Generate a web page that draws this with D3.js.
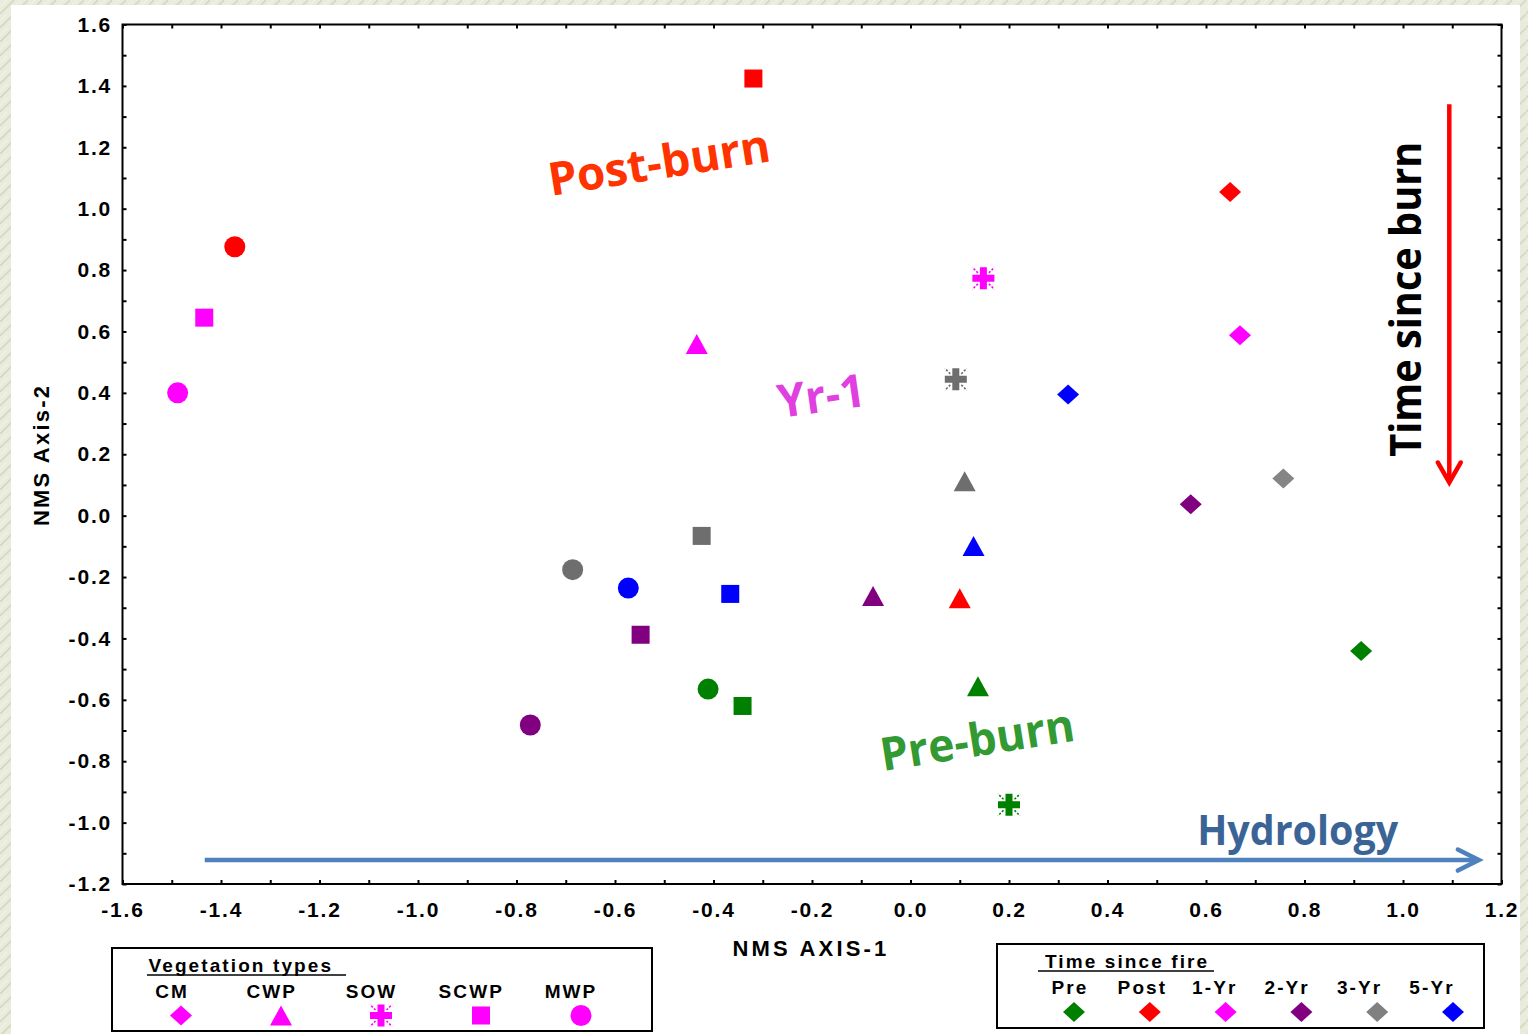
<!DOCTYPE html>
<html>
<head>
<meta charset="utf-8">
<script src="https://cdn.jsdelivr.net/npm/d3@7"></script>
<style>
  html, body { margin: 0; padding: 0; background: #e8ebda; }
  svg { display: block; }
</style>
</head>
<body>
<svg id="chart" width="1528" height="1034"></svg>
<script>
// ---- data -------------------------------------------------------------
const timeGroups = ["Pre", "Post", "1-Yr", "2-Yr", "3-Yr", "5-Yr"];
const vegTypes = ["CM", "CWP", "SOW", "SCWP", "MWP"];

const xTickValues = [-1.6, -1.4, -1.2, -1.0, -0.8, -0.6, -0.4, -0.2, 0.0, 0.2, 0.4, 0.6, 0.8, 1.0, 1.2];
const xTickLabels = ["-1.6", "-1.4", "-1.2", "-1.0", "-0.8", "-0.6", "-0.4", "-0.2", "0.0", "0.2", "0.4", "0.6", "0.8", "1.0", "1.2"];
const yTickValues = [-1.2, -1.0, -0.8, -0.6, -0.4, -0.2, 0.0, 0.2, 0.4, 0.6, 0.8, 1.0, 1.2, 1.4, 1.6];
const yTickLabels = ["-1.2", "-1.0", "-0.8", "-0.6", "-0.4", "-0.2", "0.0", "0.2", "0.4", "0.6", "0.8", "1.0", "1.2", "1.4", "1.6"];

// NMS ordination scores per vegetation type and sampling time
const cmTime  = ["Pre", "Post", "1-Yr", "2-Yr", "3-Yr", "5-Yr"];
const cmAxis1 = [0.915, 0.649, 0.669, 0.569, 0.757, 0.320];
const cmAxis2 = [-0.441, 1.054, 0.588, 0.037, 0.121, 0.395];

const cwpTime  = ["Pre", "Post", "1-Yr", "2-Yr", "3-Yr", "5-Yr"];
const cwpAxis1 = [0.137, 0.100, -0.434, -0.076, 0.110, 0.128];
const cwpAxis2 = [-0.556, -0.269, 0.559, -0.262, 0.112, -0.099];

const sowTime  = ["Pre", "1-Yr", "3-Yr"];
const sowAxis1 = [0.200, 0.148, 0.092];
const sowAxis2 = [-0.942, 0.773, 0.444];

const scwpTime  = ["Pre", "Post", "1-Yr", "2-Yr", "3-Yr", "5-Yr"];
const scwpAxis1 = [-0.341, -0.319, -1.434, -0.548, -0.424, -0.366];
const scwpAxis2 = [-0.620, 1.424, 0.645, -0.388, -0.066, -0.255];

const mwpTime  = ["Pre", "Post", "1-Yr", "2-Yr", "3-Yr", "5-Yr"];
const mwpAxis1 = [-0.411, -1.372, -1.488, -0.772, -0.686, -0.573];
const mwpAxis2 = [-0.565, 0.876, 0.400, -0.682, -0.176, -0.236];

// ---- styling ----------------------------------------------------------
const timeColor = d3.scaleOrdinal()
  .domain(timeGroups)
  .range(["#008000", "#ff0000", "#ff00ff", "#800080", "#6e6e6e", "#0000ff"]);

const W = 1528, H = 1034;
const svg = d3.select("#chart");
const defs = svg.append("defs");

// textured backdrop behind the white panel
const pat = defs.append("pattern").attr("id", "paper")
  .attr("width", 14).attr("height", 14).attr("patternUnits", "userSpaceOnUse");
pat.append("rect").attr("width", 14).attr("height", 14).attr("fill", "#e9ecdc");
pat.append("path").attr("d", "M-2,16 L16,-2").attr("stroke", "#d3d9c1").attr("stroke-width", 1.6);
pat.append("path").attr("d", "M-2,9 L9,-2").attr("stroke", "#f1f3e8").attr("stroke-width", 1.2);
svg.append("rect").attr("width", W).attr("height", H).attr("fill", "url(#paper)");
svg.append("rect").attr("x", 11).attr("y", 5).attr("width", 1509).attr("height", H - 5).attr("fill", "#ffffff");

// ---- scales -----------------------------------------------------------
const x = d3.scaleLinear().domain([-1.6, 1.2]).range([122.5, 1501.5]);
const y = d3.scaleLinear().domain([-1.2, 1.6]).range([884, 24.5]);

const xMinor = d3.range(-16, 13).map(i => +(i / 10).toFixed(1));
const yMinor = d3.range(-12, 17).map(i => +(i / 10).toFixed(1));
const xLabel = v => { const i = xTickValues.findIndex(t => Math.abs(t - v) < 1e-9); return i < 0 ? "" : xTickLabels[i]; };
const yLabel = v => { const i = yTickValues.findIndex(t => Math.abs(t - v) < 1e-9); return i < 0 ? "" : yTickLabels[i]; };

const axisFont = "'Liberation Sans', Arial, sans-serif";

function styleAxis(g) {
  g.select(".domain").remove();
  g.selectAll(".tick line").attr("stroke", "#000").attr("stroke-width", 2);
  g.selectAll(".tick text")
    .attr("fill", "#000")
    .attr("font-family", axisFont)
    .attr("font-weight", "bold")
    .attr("font-size", 21)
    .style("letter-spacing", "1.8px");
}

svg.append("g").attr("transform", `translate(0,${y.range()[0]})`)
  .call(d3.axisBottom(x).tickValues(xMinor).tickSizeInner(-4).tickSizeOuter(0)
    .tickPadding(18).tickFormat(xLabel))
  .call(styleAxis);

svg.append("g").attr("transform", `translate(0,${y.range()[1]})`)
  .call(d3.axisTop(x).tickValues(xMinor).tickSizeInner(-4).tickSizeOuter(0).tickFormat(""))
  .call(styleAxis);

svg.append("g").attr("transform", `translate(${x.range()[0]},0)`)
  .call(d3.axisLeft(y).tickValues(yMinor).tickSizeInner(-4).tickSizeOuter(0)
    .tickPadding(10.5).tickFormat(yLabel))
  .call(styleAxis);

svg.append("g").attr("transform", `translate(${x.range()[1]},0)`)
  .call(d3.axisRight(y).tickValues(yMinor).tickSizeInner(-4).tickSizeOuter(0).tickFormat(""))
  .call(styleAxis);

// plot frame
svg.append("rect")
  .attr("x", x.range()[0]).attr("y", y.range()[1])
  .attr("width", x.range()[1] - x.range()[0]).attr("height", y.range()[0] - y.range()[1])
  .attr("fill", "none").attr("stroke", "#000").attr("stroke-width", 2);

// axis titles
svg.append("text")
  .attr("x", (x.range()[0] + x.range()[1]) / 2 - 1).attr("y", 956)
  .attr("text-anchor", "middle")
  .attr("font-family", axisFont).attr("font-weight", "bold").attr("font-size", 22)
  .style("letter-spacing", "3.2px")
  .text("NMS AXIS-1");

svg.append("text")
  .attr("transform", "translate(49,455) rotate(-90)")
  .attr("text-anchor", "middle")
  .attr("font-family", axisFont).attr("font-weight", "bold").attr("font-size", 22)
  .style("letter-spacing", "2.2px")
  .text("NMS Axis-2");

// ---- marker shapes ----------------------------------------------------
function drawMarker(g, veg, color) {
  if (veg === "CM") {
    g.append("path").attr("d", "M0,-10L11,0L0,10L-11,0Z").attr("fill", color);
  } else if (veg === "CWP") {
    g.append("path").attr("d", "M0,-10L11,10L-11,10Z").attr("fill", color);
  } else if (veg === "SCWP") {
    g.append("rect").attr("x", -9).attr("y", -9).attr("width", 18).attr("height", 18).attr("fill", color);
  } else if (veg === "MWP") {
    g.append("circle").attr("r", 10.5).attr("fill", color);
  } else if (veg === "SOW") {
    g.append("path").attr("d", "M-3.5,-11h7v7.5h7.5v7h-7.5v7.5h-7v-7.5h-7.5v-7h7.5Z").attr("fill", color);
    [[1, 1], [1, -1], [-1, 1], [-1, -1]].forEach(([sx, sy]) => {
      g.append("line")
        .attr("x1", sx * 5.5).attr("y1", sy * 5.5)
        .attr("x2", sx * 11).attr("y2", sy * 11)
        .attr("stroke", color).attr("stroke-width", 1.6)
        .attr("stroke-dasharray", "2.2,1.6");
    });
  }
}

// ---- points -----------------------------------------------------------
const series = [
  { veg: "CM",   time: cmTime,   a1: cmAxis1,   a2: cmAxis2 },
  { veg: "CWP",  time: cwpTime,  a1: cwpAxis1,  a2: cwpAxis2 },
  { veg: "SOW",  time: sowTime,  a1: sowAxis1,  a2: sowAxis2 },
  { veg: "SCWP", time: scwpTime, a1: scwpAxis1, a2: scwpAxis2 },
  { veg: "MWP",  time: mwpTime,  a1: mwpAxis1,  a2: mwpAxis2 }
];
const points = series.flatMap(s => s.time.map((t, i) => ({ veg: s.veg, time: t, ax1: s.a1[i], ax2: s.a2[i] })));

const pts = svg.append("g").attr("class", "points");
points.forEach(p => {
  const g = pts.append("g").attr("transform", `translate(${x(p.ax1)},${y(p.ax2)})`);
  drawMarker(g, p.veg, p.veg === "CM" && p.time === "3-Yr" ? "#858585" : timeColor(p.time));
});

// ---- annotations ------------------------------------------------------
const noteFont = "'Open Sans', 'Noto Sans', sans-serif";
function note(text, ax1, ax2, angle, color, size, len) {
  svg.append("text")
    .attr("transform", `translate(${x(ax1)},${y(ax2)}) rotate(${angle})`)
    .attr("font-family", noteFont).attr("font-weight", "bold").attr("font-size", size)
    .attr("fill", color)
    .attr("textLength", len).attr("lengthAdjust", "spacingAndGlyphs")
    .text(text);
}
note("Post-burn", -0.730, 1.041, -9, "#ff3300", 46, 224);
note("Yr-1", -0.265, 0.318, -8, "#e040e0", 46, 88);
note("Pre-burn", -0.056, -0.832, -9, "#339933", 46, 196);
note("Hydrology", 0.582, -1.073, 0, "#3b6496", 42, 201);
note("Time since burn", 1.036, 0.192, -90, "#000000", 43, 315);

// time-since-burn arrow (downwards)
const red = "#ff0000";
svg.append("line")
  .attr("x1", x(1.094)).attr("x2", x(1.094))
  .attr("y1", y(1.340)).attr("y2", y(0.108))
  .attr("stroke", red).attr("stroke-width", 4.5);
svg.append("path")
  .attr("d", `M${x(1.094) - 11.5},${y(0.108) - 20}L${x(1.094)},${y(0.108)}L${x(1.094) + 11.5},${y(0.108) - 20}`)
  .attr("fill", "none").attr("stroke", red).attr("stroke-width", 4.5).attr("stroke-linecap", "round");

// hydrology arrow (rightwards)
const blue = "#4f81bd";
svg.append("line")
  .attr("x1", x(-1.433)).attr("x2", x(1.154))
  .attr("y1", y(-1.122)).attr("y2", y(-1.122))
  .attr("stroke", blue).attr("stroke-width", 4.5);
svg.append("path")
  .attr("d", `M${x(1.154) - 21},${y(-1.122) - 10.5}L${x(1.154)},${y(-1.122)}L${x(1.154) - 21},${y(-1.122) + 10.5}`)
  .attr("fill", "none").attr("stroke", blue).attr("stroke-width", 4.5).attr("stroke-linecap", "round");

// ---- legends ----------------------------------------------------------
function legendText(g, txt, px, py, anchor) {
  return g.append("text")
    .attr("x", px).attr("y", py).attr("text-anchor", anchor)
    .attr("font-family", axisFont).attr("font-weight", "bold").attr("font-size", 19)
    .style("letter-spacing", "2.1px")
    .text(txt);
}

// vegetation types
const vegLeg = svg.append("g");
vegLeg.append("rect").attr("x", 112).attr("y", 948).attr("width", 540).attr("height", 83)
  .attr("fill", "#fff").attr("stroke", "#000").attr("stroke-width", 2);
legendText(vegLeg, "Vegetation types", 148.5, 971.5, "start");
vegLeg.append("line").attr("x1", 147).attr("x2", 346).attr("y1", 975).attr("y2", 975)
  .attr("stroke", "#000").attr("stroke-width", 1.6);
const vegLabelX = d3.scalePoint().domain(vegTypes).range([172, 571]);
const vegMarkX = d3.scalePoint().domain(vegTypes).range([181, 581]);
vegTypes.forEach(v => {
  legendText(vegLeg, v, vegLabelX(v), 997.5, "middle");
  const g = vegLeg.append("g").attr("transform", `translate(${vegMarkX(v)},1015.5)`);
  drawMarker(g, v, timeColor("1-Yr"));
});

// time since fire
const timeLeg = svg.append("g");
timeLeg.append("rect").attr("x", 997).attr("y", 944).attr("width", 487).attr("height", 84)
  .attr("fill", "#fff").attr("stroke", "#000").attr("stroke-width", 2);
legendText(timeLeg, "Time since fire", 1045, 967.5, "start");
timeLeg.append("line").attr("x1", 1038).attr("x2", 1214).attr("y1", 971).attr("y2", 971)
  .attr("stroke", "#000").attr("stroke-width", 1.6);
const timeLabelX = d3.scalePoint().domain(timeGroups).range([1070, 1432]);
const timeMarkX = d3.scalePoint().domain(timeGroups).range([1074, 1453]);
timeGroups.forEach(t => {
  legendText(timeLeg, t, timeLabelX(t), 993.5, "middle");
  const g = timeLeg.append("g").attr("transform", `translate(${timeMarkX(t)},1012)`);
  drawMarker(g, "CM", t === "3-Yr" ? "#808080" : timeColor(t));
});
</script>
</body>
</html>
